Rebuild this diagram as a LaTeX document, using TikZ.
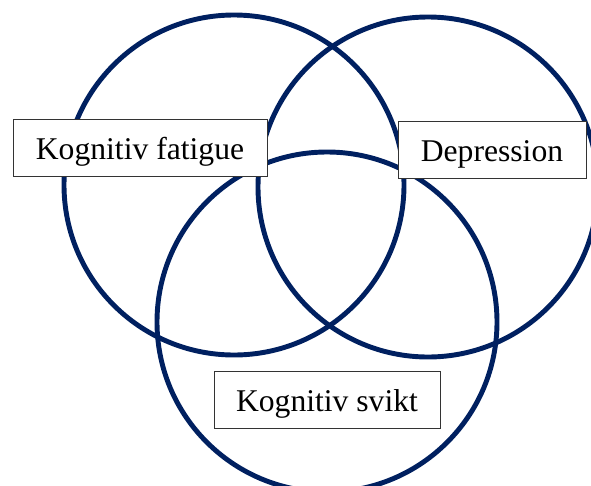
\documentclass[tikz,border=0pt]{standalone}
\usepackage{fontspec}
\setmainfont{Liberation Serif}
\usepackage{tikz}
\usetikzlibrary{positioning}
\definecolor{navy}{RGB}{0,32,96}

\begin{document}
\begin{tikzpicture}[ring/.style={circle, draw=navy, line width=3.5pt, minimum size=8.5cm, inner sep=0pt},
  tag/.style={rectangle, draw=black!80, line width=0.6pt, fill=white, inner sep=0pt,
    text height=1cm, text depth=0.425cm, font=\fontsize{22.5}{27}\selectfont}]
\clip (0,0) rectangle (14.775,-12.15) ;

\node[ring] at (5.85,-4.625) (fatigue) {} ;
\node[ring] at (10.7,-4.675) (depression) {} ;
\node[ring] at (8.175,-8.05) (svikt) {} ;

\node[tag, minimum width=6.35cm] at (3.5,-3.6875) (label1) {Kognitiv fatigue} ;
\node[tag, minimum width=4.7cm] at (12.3,-3.7375) (label2) {Depression} ;
\node[tag, minimum width=5.65cm] at (8.175,-9.9875) (label3) {Kognitiv svikt} ;
\end{tikzpicture}
\end{document}
